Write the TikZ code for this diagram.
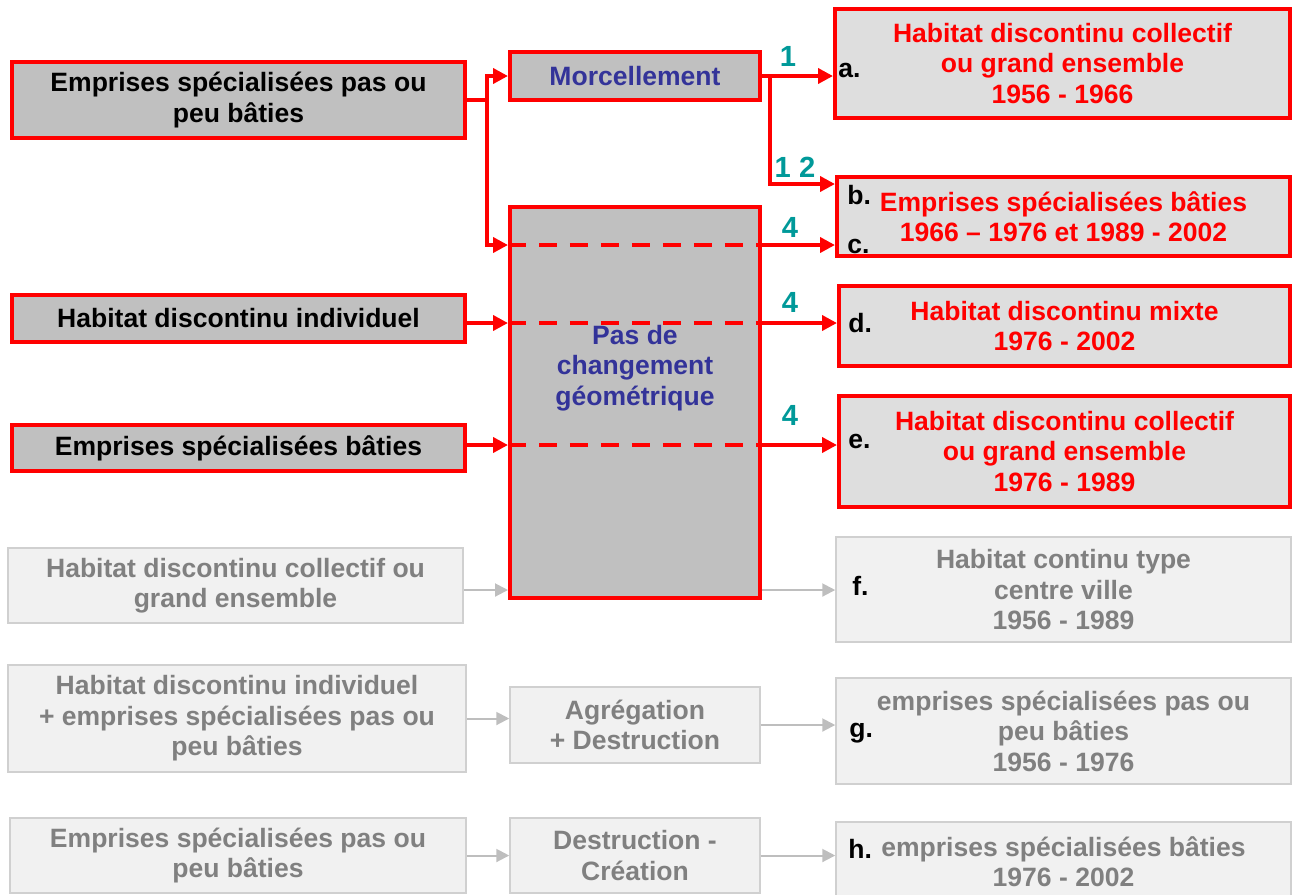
\documentclass[tikz,border=0pt]{standalone}
\usepackage{fontspec}
\setmainfont{Liberation Sans}
\usetikzlibrary{math,arrows.meta}
\definecolor{boxred}{RGB}{255,0,0}
\definecolor{darkfill}{RGB}{192,192,192}
\definecolor{lightfill}{RGB}{222,222,222}
\definecolor{fadefill}{RGB}{241,241,241}
\definecolor{fadeline}{RGB}{208,208,208}
\definecolor{fadearrowcol}{RGB}{190,190,190}
\definecolor{fadetext}{RGB}{128,128,128}
\definecolor{stepblue}{RGB}{51,51,153}
\definecolor{countteal}{RGB}{0,153,153}
\tikzset{
  boxdim/.style 2 args = {minimum width = #1*0.02cm, minimum height = #2*0.02cm},
  txt/.style = {rectangle, inner sep = 0pt, align = center,
    font = \bfseries\fontsize{15.1}{17.3}\selectfont},
  sourcebox/.style = {txt, draw = boxred, line width = 0.08cm, fill = darkfill},
  resultbox/.style = {txt, draw = boxred, line width = 0.08cm, fill = lightfill, text = boxred},
  fadebox/.style = {txt, draw = fadeline, line width = 0.03cm, fill = fadefill, text = fadetext},
  letterlabel/.style = {txt, anchor = base west},
  countlabel/.style = {txt, anchor = base, text = countteal,
    font = \bfseries\fontsize{16.6}{18}\selectfont},
  redline/.style = {draw = boxred, line width = 0.08cm},
  redarrow/.style = {redline, -{Triangle[length = 0.3cm, width = 0.3cm]}},
  reddash/.style = {redline, dash pattern = on 0.36cm off 0.26cm},
  fadearrow/.style = {draw = fadearrowcol, line width = 0.04cm,
    -{Triangle[length = 0.26cm, width = 0.26cm]}}
}

\begin{document}
\begin{tikzpicture}[x = 0.02cm, y = -0.02cm]
    \tikzmath{
      \forkL = 487;
      \forkR = 770;
      \rowBC = 184;
      \rowB = 245;
      \rowD = 323;
      \rowE = 445;
      \rowF = 590;
    }
    \useasboundingbox (0,0) rectangle (1294,894);
    \node[sourcebox, boxdim = {453}{76}] (srcA) at (238.5,100)
    {Emprises spécialisées pas ou\\peu bâties};
    \node[sourcebox, boxdim = {453}{47}] (srcB) at (238.5,318)
    {Habitat discontinu individuel};
    \node[sourcebox, boxdim = {453}{46}] (srcC) at (238.5,448)
    {Emprises spécialisées bâties};
    \node[sourcebox, boxdim = {250}{48}, text = stepblue] (morc) at (635,76)
    {Morcellement};
    \node[sourcebox, boxdim = {250}{391}] (big) at (635,402.5) {};
    \node[txt, text = stepblue] (bigtext) at (635,368)
    {Pas de\\changement\\géométrique};
    \node[resultbox, boxdim = {455}{109}] (resA) at (1062.5,63.5)
    {Habitat discontinu collectif\\ou grand ensemble\\1956 - 1966};
    \node[resultbox, boxdim = {453}{79}] (resBC) at (1063.5,216.5)
    {Emprises spécialisées bâties\\1966 – 1976 et 1989 - 2002};
    \node[resultbox, boxdim = {451}{80}] (resD) at (1064.5,326)
    {Habitat discontinu mixte\\1976 - 2002};
    \node[resultbox, boxdim = {451}{111}] (resE) at (1064.5,451.5)
    {Habitat discontinu collectif\\ou grand ensemble\\1976 - 1989};
    \node[fadebox, boxdim = {455}{75}] (fadeA) at (235.5,585.5)
    {Habitat discontinu collectif ou\\grand ensemble};
    \node[fadebox, boxdim = {458}{107}] (fadeB) at (237,718.5)
    {Habitat discontinu individuel\\+ emprises spécialisées pas ou\\peu bâties};
    \node[fadebox, boxdim = {456}{75}] (fadeC) at (238,855.5)
    {Emprises spécialisées pas ou\\peu bâties};
    \node[fadebox, boxdim = {250}{76}] (agr) at (635,725)
    {Agrégation\\+ Destruction};
    \node[fadebox, boxdim = {250}{75}] (destr) at (635,855.5)
    {Destruction -\\Création};
    \node[fadebox, boxdim = {455}{105}] (resF) at (1063.5,589.5)
    {Habitat continu type\\centre ville\\1956 - 1989};
    \node[fadebox, boxdim = {455}{106}] (resG) at (1063.5,731)
    {emprises spécialisées pas ou\\peu bâties\\1956 - 1976};
    \node[fadebox, boxdim = {455}{80}] (resH) at (1063.5,862)
    {emprises spécialisées bâties\\1976 - 2002};
    \coordinate (forkA) at (srcA.east -| \forkL,0);
    \coordinate (forkB) at (morc.east -| \forkR,0);
    \draw[redarrow] (srcA.east) -- (forkA) |- (morc.west);
    \draw[redarrow] (forkA) |- (big.west |- 0,\rowB);
    \draw[redarrow] (morc.east) -- (resA.west |- morc.east);
    \draw[redarrow] (forkB) |- (resBC.west |- 0,\rowBC);
    \draw[redarrow] (srcB.east |- 0,\rowD) -- (big.west |- 0,\rowD);
    \draw[redarrow] (srcC.east |- 0,\rowE) -- (big.west |- 0,\rowE);
    \draw[reddash] (big.west |- 0,\rowB) -- (big.east |- 0,\rowB);
    \draw[reddash] (big.west |- 0,\rowD) -- (big.east |- 0,\rowD);
    \draw[reddash] (big.west |- 0,\rowE) -- (big.east |- 0,\rowE);
    \draw[redarrow] (big.east |- 0,\rowB) -- (resBC.west |- 0,\rowB);
    \draw[redarrow] (big.east |- 0,\rowD) -- (resD.west |- 0,\rowD);
    \draw[redarrow] (big.east |- 0,\rowE) -- (resE.west |- 0,\rowE);
    \draw[fadearrow] (fadeA.east |- 0,\rowF) -- (big.west |- 0,\rowF);
    \draw[fadearrow] (big.east |- 0,\rowF) -- (resF.west |- 0,\rowF);
    \draw[fadearrow] (fadeB.east) -- (fadeB.east -| agr.west);
    \draw[fadearrow] (agr.east) -- (agr.east -| resG.west);
    \draw[fadearrow] (fadeC.east) -- (fadeC.east -| destr.west);
    \draw[fadearrow] (destr.east) -- (destr.east -| resH.west);
    \node[countlabel] (numA) at (788,66) {1};
    \node[countlabel] (numBC) at (795,177) {1 2};
    \node[countlabel] (numB) at (790,237) {4};
    \node[countlabel] (numD) at (790,312) {4};
    \node[countlabel] (numE) at (790,425) {4};
    \node[letterlabel] (letA) at (838,77) {a.};
    \node[letterlabel] (letB) at (847,204) {b.};
    \node[letterlabel] (letC) at (847,253) {c.};
    \node[letterlabel] (letD) at (848,332) {d.};
    \node[letterlabel] (letE) at (848,448) {e.};
    \node[letterlabel] (letF) at (852,595) {f.};
    \node[letterlabel] (letG) at (849,737) {g.};
    \node[letterlabel] (letH) at (848,858) {h.};
  \end{tikzpicture}
\end{document}
